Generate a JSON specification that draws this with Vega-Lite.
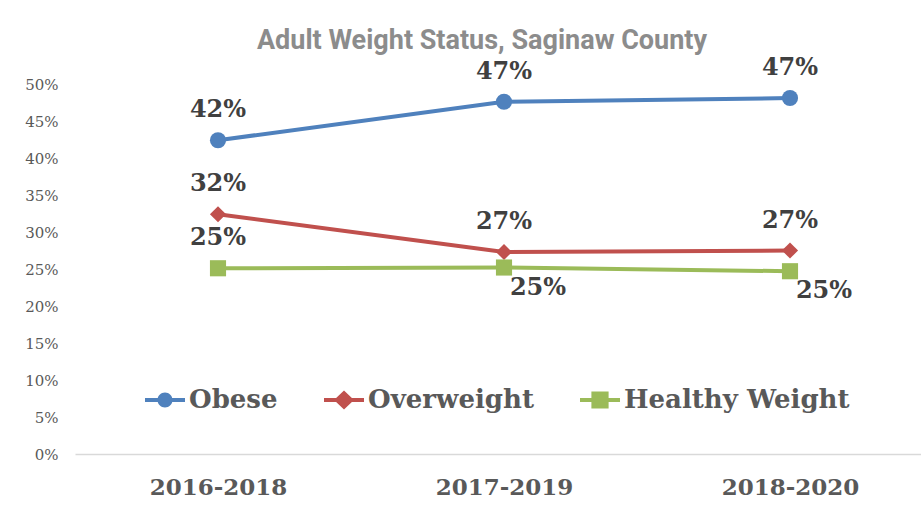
{
  "$schema": "https://vega.github.io/schema/vega-lite/v6.json",
  "width": 858,
  "height": 370,
  "autosize": "none",
  "padding": {"left": 75, "top": 84, "right": 0, "bottom": 51},
  "background": "white",
  "title": {
    "text": "Adult Weight Status, Saginaw County",
    "font": "Roboto",
    "fontSize": 27,
    "fontWeight": "bold",
    "color": "#8C8C8C",
    "anchor": "middle",
    "frame": "group",
    "dx": -22,
    "baseline": "alphabetic",
    "offset": -20
  },
  "config": {"view": {"stroke": null}},
  "data": {
    "values": [
      {"period": "2016-2018", "series": "Obese", "value": 0.424, "label": "42%"},
      {"period": "2017-2019", "series": "Obese", "value": 0.476, "label": "47%"},
      {"period": "2018-2020", "series": "Obese", "value": 0.481, "label": "47%"},
      {"period": "2016-2018", "series": "Overweight", "value": 0.324, "label": "32%"},
      {"period": "2017-2019", "series": "Overweight", "value": 0.273, "label": "27%"},
      {"period": "2018-2020", "series": "Overweight", "value": 0.275, "label": "27%"},
      {"period": "2016-2018", "series": "Healthy Weight", "value": 0.251, "label": "25%"},
      {"period": "2017-2019", "series": "Healthy Weight", "value": 0.252, "label": "25%"},
      {"period": "2018-2020", "series": "Healthy Weight", "value": 0.247, "label": "25%"}
    ]
  },
  "encoding": {
    "x": {
      "field": "period",
      "type": "nominal",
      "scale": {"type": "point", "padding": 0.5},
      "axis": {
        "title": null,
        "labelAngle": 0,
        "labelFont": "DejaVu Serif",
        "labelFontWeight": "bold",
        "labelFontSize": 23,
        "labelColor": "#595959",
        "labelPadding": 22,
        "labelBaseline": "top",
        "ticks": false,
        "domainColor": "#D9D9D9",
        "domainWidth": 1.5
      }
    },
    "y": {
      "field": "value",
      "type": "quantitative",
      "scale": {"domain": [0, 0.5], "nice": false},
      "axis": {
        "title": null,
        "values": [0, 0.05, 0.1, 0.15, 0.2, 0.25, 0.3, 0.35, 0.4, 0.45, 0.5],
        "format": ".0%",
        "grid": false,
        "domain": false,
        "ticks": false,
        "labelFont": "DejaVu Serif",
        "labelFontSize": 15,
        "labelColor": "#595959",
        "labelPadding": 17
      }
    },
    "color": {
      "field": "series",
      "type": "nominal",
      "scale": {
        "domain": ["Obese", "Overweight", "Healthy Weight"],
        "range": ["#4F81BD", "#C0504D", "#9BBB59"]
      },
      "legend": null
    }
  },
  "layer": [
    {
      "mark": {"type": "line", "strokeWidth": 4}
    },
    {
      "mark": {"type": "point", "filled": true, "opacity": 1, "size": 260},
      "encoding": {
        "shape": {
          "field": "series",
          "type": "nominal",
          "scale": {
            "domain": ["Obese", "Overweight", "Healthy Weight"],
            "range": ["circle", "diamond", "square"]
          },
          "legend": null
        }
      }
    },
    {
      "mark": {"type": "point", "filled": true, "opacity": 0, "size": 10},
      "encoding": {
        "color": {
          "field": "series",
          "type": "nominal",
          "scale": {
            "domain": ["Obese", "Overweight", "Healthy Weight"],
            "range": ["#4F81BD", "#C0504D", "#9BBB59"]
          },
          "legend": {
            "orient": "none",
            "legendX": 70,
            "legendY": 296,
            "direction": "horizontal",
            "title": null,
            "symbolSize": 1600,
            "symbolOpacity": 1,
            "symbolStrokeWidth": 0,
            "labelFont": "DejaVu Serif",
            "labelFontWeight": "bold",
            "labelFontSize": 26,
            "labelColor": "#595959",
            "labelOffset": 4,
            "columnPadding": 46,
            "labelLimit": 400
          }
        },
        "shape": {
          "field": "series",
          "type": "nominal",
          "scale": {
            "domain": ["Obese", "Overweight", "Healthy Weight"],
            "range": [
              "M-1,-0.1H1V0.1H-1Z M0.375,0A0.375,0.375 0 1,1 -0.375,0A0.375,0.375 0 1,1 0.375,0Z",
              "M-1,-0.1H1V0.1H-1Z M0,-0.48L0.5,0L0,0.48L-0.5,0Z",
              "M-1,-0.1H1V0.1H-1Z M-0.43,-0.43H0.43V0.43H-0.43Z"
            ]
          },
          "legend": {
            "orient": "none",
            "legendX": 70,
            "legendY": 296,
            "direction": "horizontal",
            "title": null,
            "symbolSize": 1600,
            "symbolOpacity": 1,
            "symbolStrokeWidth": 0,
            "labelFont": "DejaVu Serif",
            "labelFontWeight": "bold",
            "labelFontSize": 26,
            "labelColor": "#595959",
            "labelOffset": 4,
            "columnPadding": 46,
            "labelLimit": 400
          }
        }
      }
    },
    {
      "transform": [{"filter": "datum.series !== 'Healthy Weight' || datum.period === '2016-2018'"}],
      "mark": {
        "type": "text",
        "dy": -30,
        "font": "DejaVu Serif",
        "fontWeight": "bold",
        "fontSize": 24,
        "baseline": "middle",
        "align": "center",
        "color": "#404040"
      },
      "encoding": {"text": {"field": "label"}, "color": {"value": "#404040"}}
    },
    {
      "transform": [{"filter": "datum.series === 'Healthy Weight' && datum.period !== '2016-2018'"}],
      "mark": {
        "type": "text",
        "dy": 20,
        "dx": 34,
        "font": "DejaVu Serif",
        "fontWeight": "bold",
        "fontSize": 24,
        "baseline": "middle",
        "align": "center",
        "color": "#404040"
      },
      "encoding": {"text": {"field": "label"}, "color": {"value": "#404040"}}
    }
  ],
  "resolve": {"scale": {"shape": "independent", "color": "independent"}}
}
